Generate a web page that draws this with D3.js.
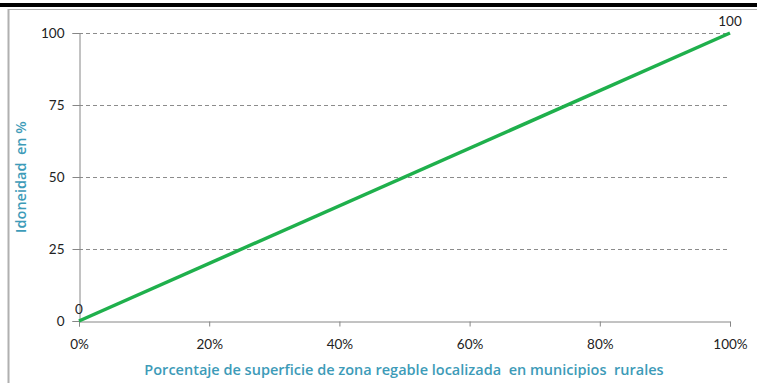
<!DOCTYPE html>
<html><head><meta charset="utf-8">
<script src="https://cdn.jsdelivr.net/npm/d3@7/dist/d3.min.js"></script>
<style>body{margin:0;background:#fff}svg{display:block}text{white-space:pre}</style>
</head><body>
<script>
const xValues = [0, 1];
const yValues = [0, 100];
const pointLabels = ["0", "100"];
const yTicks = [0, 25, 50, 75, 100];
const xTicks = [0, 0.2, 0.4, 0.6, 0.8, 1];
const xTitle = "Porcentaje de superficie de zona regable localizada  en municipios  rurales";
const yTitle = "Idoneidad  en %";

const W = 757, H = 383;
const font = "Lato, 'Open Sans', sans-serif";
const tfont = "'Open Sans', sans-serif";
const svg = d3.select("body").append("svg").attr("width", W).attr("height", H);

// frame
svg.append("rect").attr("x",0).attr("y",3).attr("width",W).attr("height",4).attr("fill","#000");
svg.append("line").attr("x1",8).attr("x2",W).attr("y1",9.5).attr("y2",9.5).attr("stroke","#b0b0b0").attr("stroke-width",1);
svg.append("line").attr("x1",8.5).attr("x2",8.5).attr("y1",9).attr("y2",H).attr("stroke","#b0b0b0").attr("stroke-width",2);

const x = d3.scaleLinear().domain([0,1]).range([79,730]);
const y = d3.scaleLinear().domain([0,100]).range([321,33]);

// gridlines
svg.append("g").selectAll("line").data(yTicks.filter(d=>d>0)).join("line")
  .attr("x1",79).attr("x2",730).attr("y1",d=>Math.round(y(d))+0.5).attr("y2",d=>Math.round(y(d))+0.5)
  .attr("stroke","#8c8c8c").attr("stroke-dasharray","4,3").attr("stroke-width",1);

// axes
const ya = svg.append("g").attr("transform","translate(79.5,0)")
  .call(d3.axisLeft(y).tickValues(yTicks).tickSize(7).tickPadding(8));
const xa = svg.append("g").attr("transform","translate(0,321.5)")
  .call(d3.axisBottom(x).tickValues(xTicks).tickFormat(d3.format(".0%")).tickSize(5).tickPadding(13));
[ya,xa].forEach(a=>{
  a.selectAll("path,line").attr("stroke","#868686");
  a.selectAll("text").attr("font-family",font).attr("font-size",13.5).attr("fill","#222");
});

// line
svg.append("path").datum(xValues.map((v,i)=>[v,yValues[i]]))
  .attr("d", d3.line().x(d=>x(d[0])).y(d=>y(d[1])))
  .attr("stroke","#1fb04c").attr("stroke-width",3.5).attr("fill","none");

// labels
svg.append("g").selectAll("text").data(xValues.map((v,i)=>[v,yValues[i],pointLabels[i]])).join("text")
  .attr("x",d=>x(d[0])).attr("y",d=>y(d[1])-7)
  .attr("text-anchor","middle").attr("font-family",font).attr("font-size",13.5).attr("fill","#222")
  .text(d=>d[2]);

// titles
svg.append("text").attr("x",404).attr("y",375).attr("text-anchor","middle")
  .attr("font-family",tfont).attr("font-size",14.5).attr("font-weight","600").attr("fill","#3d9bb8").text(xTitle);
svg.append("text").attr("transform","translate(26,177) rotate(-90)").attr("text-anchor","middle")
  .attr("font-family",tfont).attr("font-size",14.5).attr("font-weight","600").attr("fill","#3d9bb8").text(yTitle);
</script>
</body></html>
